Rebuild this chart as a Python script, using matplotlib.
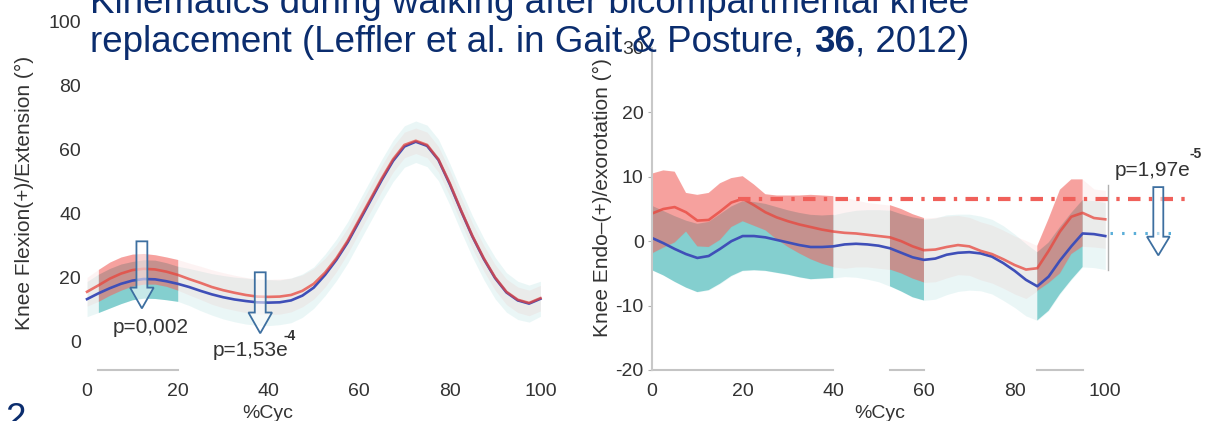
import numpy as np
import matplotlib
matplotlib.use('Agg')
import matplotlib.pyplot as plt
from matplotlib.patches import FancyArrow

plt.rcParams['font.family'] = ['Liberation Sans', 'DejaVu Sans']

# gait cycle sample points (%)
cyc = np.arange(0, 101, 2.5)

# knee flexion / extension (deg)
flex_red = [15.5, 17.5, 19.6, 21.2, 22.3, 22.7, 22.5, 21.8, 20.8, 19.5, 18.3, 17.0, 16.0, 15.2,
            14.5, 14.0, 13.9, 14.0, 14.5, 15.8, 18.0, 21.5, 26.0, 31.5, 38.0, 44.5, 51.0, 57.0,
            61.5, 62.8, 61.5, 57.0, 49.5, 41.0, 33.0, 26.0, 20.0, 15.5, 13.0, 12.0, 13.5]
flex_blue = [13.2, 15.0, 16.6, 18.0, 19.0, 19.5, 19.4, 18.8, 18.0, 17.0, 15.8, 14.7, 13.8, 13.1,
             12.6, 12.2, 12.1, 12.2, 12.8, 14.3, 16.8, 20.8, 25.5, 31.0, 37.5, 44.0, 50.5, 56.5,
             61.0, 62.5, 61.2, 56.8, 49.2, 40.8, 32.8, 25.8, 19.8, 15.3, 12.8, 11.8, 13.3]
flex_red_sd = [4.5, 5.0, 5.2, 5.2, 5.0, 4.8, 4.6, 4.6, 4.8, 5.0, 5.2, 5.4, 5.5, 5.5,
               5.5, 5.5, 5.5, 5.5, 5.3, 5.0, 4.8, 4.5, 4.2, 4.0, 4.0, 4.0, 4.0, 4.0,
               4.0, 4.0, 4.0, 4.0, 4.0, 4.0, 4.0, 4.0, 4.0, 4.0, 4.0, 4.0, 4.0]
flex_blue_sd = [5.5, 6.0, 6.2, 6.2, 6.0, 6.0, 6.0, 5.8, 5.5, 5.8, 6.2, 6.5, 6.8, 7.0,
                7.2, 7.2, 7.2, 7.0, 7.0, 6.8, 6.5, 6.5, 6.5, 6.5, 6.5, 6.5, 6.5, 6.5,
                6.5, 6.5, 6.5, 6.5, 6.5, 6.5, 6.5, 6.5, 6.5, 6.2, 6.0, 5.8, 5.5]

# knee endo / exorotation (deg)
rot_red = [4.3, 5.0, 5.3, 4.5, 3.2, 3.3, 4.6, 6.0, 6.6, 5.6, 4.5, 3.7, 3.1, 2.6,
           2.2, 1.8, 1.5, 1.3, 1.2, 1.0, 0.8, 0.6, 0.0, -0.8, -1.4, -1.3, -0.9, -0.6,
           -0.8, -1.5, -2.0, -2.8, -3.7, -4.4, -4.2, -1.5, 1.5, 3.8, 4.4, 3.6, 3.4]
rot_blue = [0.5, -0.3, -1.2, -2.0, -2.6, -2.3, -1.2, 0.0, 0.8, 0.8, 0.6, 0.2, -0.2, -0.6,
            -0.9, -0.9, -0.8, -0.5, -0.4, -0.5, -0.7, -1.1, -1.8, -2.5, -2.9, -2.7, -2.1, -1.8,
            -1.7, -1.9, -2.4, -3.4, -4.6, -6.0, -7.0, -5.5, -3.0, -0.8, 1.2, 1.1, 0.8]
rot_red_sd = [6.2, 6.0, 5.5, 3.0, 4.0, 4.2, 4.4, 3.8, 3.5, 3.2, 2.8, 3.4, 4.0, 4.5,
              5.0, 5.3, 5.5, 5.5, 5.2, 5.0, 5.0, 5.0, 5.0, 5.0, 5.0, 5.0, 4.8, 4.6,
              4.5, 4.5, 4.5, 4.5, 4.5, 4.5, 3.5, 5.0, 6.5, 5.8, 5.2, 4.5, 4.5]
rot_blue_sd = [5.0, 5.0, 5.1, 5.2, 5.3, 5.3, 5.4, 5.4, 5.4, 5.3, 5.2, 5.1, 5.0, 5.0,
               5.0, 4.9, 4.9, 5.0, 5.2, 5.4, 5.6, 5.9, 6.0, 6.2, 6.3, 6.3, 6.2, 6.0,
               5.9, 5.8, 5.8, 5.8, 5.7, 5.6, 5.3, 5.3, 5.2, 5.2, 5.2, 5.2, 5.2]

# significant parts of the cycle
sig_flex = [(2.5, 20)]
sig_rot = [(0, 40), (52.5, 60), (85, 95)]

# mean levels of the two groups at the end (rotation)
level_red = 6.6
level_blue = 1.2

RED = '#e8453c'
BLUE = '#3f4fb8'
RED_BAND = '#f26b66'
TEAL_BAND = '#41b6b6'
TXT = '#333333'
NAVY = '#0b2d6e'


def draw_bands(ax, mr, sr, mb, sb, sig):
    mr, sr, mb, sb = map(np.array, (mr, sr, mb, sb))
    mask = np.zeros(len(cyc), bool)
    for a, b in sig:
        mask |= (cyc >= a) & (cyc <= b)
    ax.fill_between(cyc, mb - sb, mb + sb, color=TEAL_BAND, alpha=0.11, lw=0)
    ax.fill_between(cyc, mr - sr, mr + sr, color=RED_BAND, alpha=0.08, lw=0)
    ax.fill_between(cyc, mb - sb, mb + sb, where=mask, color=TEAL_BAND, alpha=0.6, lw=0)
    ax.fill_between(cyc, mr - sr, mr + sr, where=mask, color=RED_BAND, alpha=0.6, lw=0)
    ax.plot(cyc, mb, color=BLUE, lw=1.9)
    ax.plot(cyc, mr, color=RED, lw=1.9, alpha=0.75)


def hollow_arrow(ax, x, y0, y1, w, hw, hl):
    ax.add_patch(FancyArrow(x, y0, 0, y1 - y0, width=w, head_width=hw, head_length=hl,
                            length_includes_head=True, facecolor=(1, 1, 1, 0.55),
                            edgecolor='#3d6fa0', lw=1.3, clip_on=False, zorder=5))


fig = plt.figure(figsize=(12.07, 4.21), dpi=100)

# ---- left: flexion / extension
axL = fig.add_axes([82.5 / 1207, 51 / 421, 467 / 1207, 348 / 421])
draw_bands(axL, flex_red, flex_red_sd, flex_blue, flex_blue_sd, sig_flex)
axL.set_xlim(-1, 102)
axL.set_ylim(-9, 100)
for s in axL.spines.values():
    s.set_visible(False)
for a, b in sig_flex:
    axL.plot([a, b], [-9, -9], color='#c4c4c4', lw=1.5, clip_on=False)
axL.set_xticks(range(0, 101, 20))
axL.set_yticks(range(0, 101, 20))
axL.tick_params(length=0, labelsize=14, labelcolor=TXT)
axL.tick_params(axis='x', pad=9)
axL.tick_params(axis='y', pad=1)
hollow_arrow(axL, 12.1, 31.3, 10.3, 2.4, 5.2, 6.5)
hollow_arrow(axL, 38.2, 21.6, 2.5, 2.4, 5.2, 6.5)
axL.text(14, 4.4, 'p=0,002', fontsize=15, color=TXT, ha='center', va='center')
axL.text(36, -2.8, 'p=1,53e', fontsize=15, color=TXT, ha='center', va='center')
axL.text(43.3, 1.6, '-4', fontsize=10, color=TXT, ha='left', va='center', fontweight='bold')

# ---- right: endo / exorotation
axR = fig.add_axes([652 / 1207, 51 / 421, 553 / 1207, 322 / 421])
draw_bands(axR, rot_red, rot_red_sd, rot_blue, rot_blue_sd, sig_rot)
axR.plot([19, 118], [level_red, level_red], color='#f0605a', lw=3, dashes=(3, 2, 0.8, 2))
axR.plot([101, 115], [level_blue, level_blue], color='#5aaed8', lw=2.2, dashes=(0.8, 3))
axR.plot([100.7, 100.7], [-4.5, 8.7], color='#b0b0b0', lw=1)
axR.set_xlim(0, 122)
axR.set_ylim(-20, 30)
for k in ('top', 'right', 'bottom'):
    axR.spines[k].set_visible(False)
axR.spines['left'].set_color('#c8c8c8')
axR.spines['left'].set_linewidth(1.5)
for a, b in sig_rot:
    axR.plot([a, b], [-20, -20], color='#c4c4c4', lw=1.5, clip_on=False)
axR.set_xticks(range(0, 101, 20))
axR.set_yticks(range(-20, 31, 10))
axR.set_yticklabels(['-20', '-10', '0', '10', '20', '30'])
axR.tick_params(labelsize=14, labelcolor=TXT, color='#b0b0b0')
axR.tick_params(axis='x', length=0, pad=9)
axR.tick_params(axis='y', length=3, pad=3)
hollow_arrow(axR, 111.7, 8.4, -2.2, 2.2, 5.0, 2.9)
axR.text(110.4, 11, 'p=1,97e', fontsize=15, color=TXT, ha='center', va='center')
axR.text(118.6, 13.6, '-5', fontsize=10, color=TXT, ha='left', va='center', fontweight='bold')

# axis titles
fig.text(24 / 1207, 1 - 193 / 421, 'Knee Flexion(+)/Extension (°)', rotation=90,
         ha='center', va='center', fontsize=15, color=TXT)
fig.text(602 / 1207, 1 - 198 / 421, 'Knee Endo\u2013(+)/exorotation (°)', rotation=90,
         ha='center', va='center', fontsize=15, color=TXT)
fig.text(268 / 1207, 1 - 413 / 421, '%Cyc', ha='center', va='center', fontsize=14, color=TXT)
fig.text(880 / 1207, 1 - 413 / 421, '%Cyc', ha='center', va='center', fontsize=14, color=TXT)

# slide title (partly cut off)
fig.text(90 / 1207, 1 - 13 / 421, 'Kinematics during walking after bicompartmental knee',
         fontsize=26.5, color=NAVY, va='baseline')
fig.text(90 / 1207, 1 - 52 / 421, 'replacement (Leffler et al. in Gait & Posture, ',
         fontsize=26.5, color=NAVY, va='baseline')
t = fig.texts[-1]
fig.canvas.draw()
bb = t.get_window_extent()
t2 = fig.text(bb.x1 / 1207, 1 - 52 / 421, '36', fontsize=26.5, color=NAVY,
              va='baseline', fontweight='bold')
bb2 = t2.get_window_extent()
fig.text(bb2.x1 / 1207, 1 - 52 / 421, ', 2012)', fontsize=26.5, color=NAVY, va='baseline')
fig.text(5 / 1207, -8 / 421, '2', fontsize=26.5, color=NAVY, va='baseline')

fig.savefig('out.png', dpi=100)
